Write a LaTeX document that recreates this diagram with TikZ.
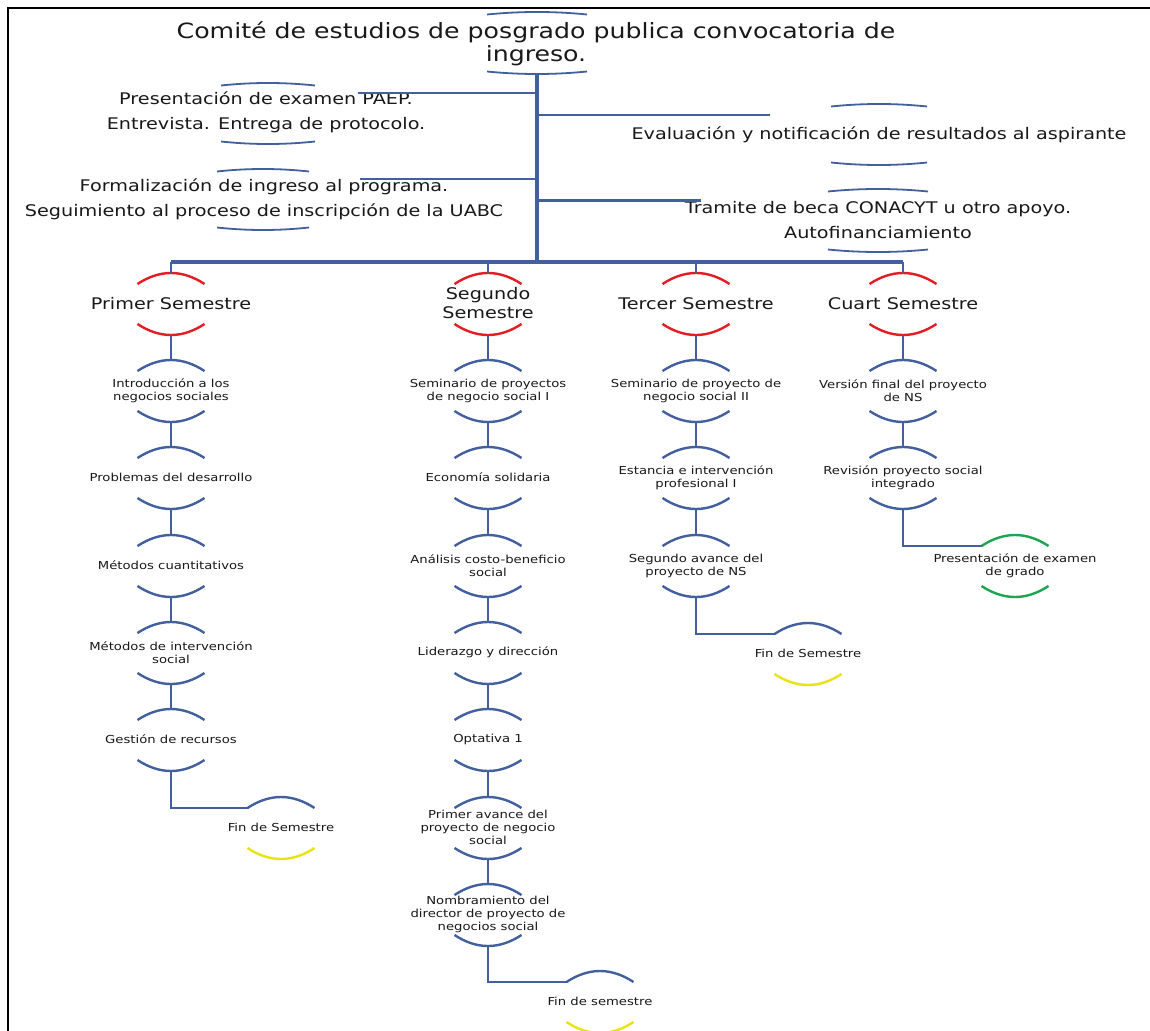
\documentclass[tikz,border=0pt]{standalone}
\usepackage{fontspec}
\setmainfont[FakeStretch=1.2]{DejaVu Sans}
\usetikzlibrary{calc}
\definecolor{lineblue}{RGB}{66,96,158}
\definecolor{arcred}{RGB}{228,28,36}
\definecolor{arcyellow}{RGB}{232,228,20}
\definecolor{arcgreen}{RGB}{30,165,80}
\definecolor{txt}{RGB}{25,25,25}
\tikzset{
  conn/.style={draw=lineblue, line width=2.8pt},
  trunkline/.style={draw=lineblue, line width=3.8pt},
  busline/.style={draw=lineblue, line width=3.2pt},
  branchline/.style={draw=lineblue, line width=2.4pt},
  bluearc/.style={draw=lineblue, line width=2.4pt},
  redarc/.style={draw=arcred, line width=2.4pt},
  yellowarc/.style={draw=arcyellow, line width=2.4pt},
  greenarc/.style={draw=arcgreen, line width=2.4pt},
  flatarc/.style={draw=lineblue, line width=1.8pt},
  smalltxt/.style={font=\fontsize{11}{13}\selectfont, align=center, text=txt, inner sep=0pt},
  semtxt/.style={font=\fontsize{16}{19}\selectfont, align=center, text=txt, inner sep=0pt},
  sidetxt/.style={font=\fontsize{16}{25}\selectfont, align=center, text=txt, inner sep=0pt},
  titletxt/.style={font=\fontsize{21}{22.5}\selectfont, align=center, text=txt, inner sep=0pt},
}
% #1 name, #2 cx, #3 top apex y, #4 bottom apex y, #5 half width, #6 sag, #7 top style, #8 bottom style
\newcommand\arcpair[8]{%
  \coordinate (#1-t) at (#2,#3);
  \coordinate (#1-b) at (#2,#4);
  \coordinate (#1-l) at ($(#1-t)+(-#5,#6)$);
  \draw[#7] ($(#1-t)+(-#5,#6)$) .. controls ($(#1-t)+(-#5/3,-#6/3)$) and ($(#1-t)+(#5/3,-#6/3)$) .. ($(#1-t)+(#5,#6)$);
  \draw[#8] ($(#1-b)+(-#5,-#6)$) .. controls ($(#1-b)+(-#5/3,#6/3)$) and ($(#1-b)+(#5/3,#6/3)$) .. ($(#1-b)+(#5,-#6)$);
}
% #1 name, #2 cx, #3 top apex y, #4 top arc style, #5 bottom arc style, #6 text style, #7 text
\newcommand\capnode[7]{%
  \pgfmathsetmacro\cnB{#3+62}%
  \pgfmathsetmacro\cnC{#3+30.5}%
  \arcpair{#1}{#2}{#3}{\cnB}{33.5}{11}{#4}{#5}
  \node[#6] (#1) at (#2,\cnC) {#7};
}
\begin{document}
\begin{tikzpicture}[x=1pt,y=-1pt]
\clip (0,0) rectangle (1150,1030);
\fill[white] (0,0) rectangle (1150,1030);
% frame
\draw[black, line width=2pt] (8,1040) -- (8,8) -- (1160,8);

% title
\arcpair{ttl}{537}{12}{74}{50}{2.5}{flatarc}{flatarc}
\node[titletxt] (title) at (536,44) {Comité de estudios de posgrado publica convocatoria de\\ingreso.};

% side nodes
\arcpair{L1}{268}{83}{144}{47}{2.5}{flatarc}{flatarc}
\node[sidetxt] (left1) at (266,112.5) {Presentación de examen PAEP.\\Entrevista. Entrega de protocolo.};
\arcpair{L2}{263}{169}{230}{46}{2.5}{flatarc}{flatarc}
\node[sidetxt] (left2) at (264,199) {Formalización de ingreso al programa.\\Seguimiento al proceso de inscripción de la UABC};
\arcpair{R1}{879}{104}{165}{48}{2.5}{flatarc}{flatarc}
\node[sidetxt] (right1) at (879,135) {Evaluación y notificación de resultados al aspirante};
\arcpair{R2}{878}{189}{252}{50}{2.5}{flatarc}{flatarc}
\node[sidetxt] (right2) at (878,220) {Tramite de beca CONACYT u otro apoyo.\\Autofinanciamiento};

% trunk, branches and bus
\coordinate (busc) at (537,262);
\coordinate (busl) at (171,262);
\coordinate (busr) at (903,262);
\coordinate (L1e) at (358,93);
\coordinate (L2e) at (360,179);
\coordinate (R1e) at (770,115);
\coordinate (R2e) at (701,200.5);
\draw[branchline] (L1e) -- (L1e -| busc);
\draw[branchline] (L2e) -- (L2e -| busc);
\draw[branchline] (R1e) -- (R1e -| busc);
\draw[branchline] (R2e) -- (R2e -| busc);
\draw[trunkline] (ttl-b) -- (busc);
\draw[busline] (busl) -- (busr);

% semester nodes
\capnode{s1}{171}{273}{redarc}{redarc}{semtxt}{Primer Semestre}
\capnode{s2}{488}{273}{redarc}{redarc}{semtxt}{Segundo\\Semestre}
\capnode{s3}{696}{273}{redarc}{redarc}{semtxt}{Tercer Semestre}
\capnode{s4}{903}{273}{redarc}{redarc}{semtxt}{Cuart Semestre}
\foreach \s in {s1,s2,s3,s4} {\draw[conn] (\s-t |- busc) -- (\s-t);}

% column 1
\capnode{a1}{171}{360}{bluearc}{bluearc}{smalltxt}{Introducción a los\\negocios sociales}
\capnode{a2}{171}{447}{bluearc}{bluearc}{smalltxt}{Problemas del desarrollo}
\capnode{a3}{171}{535}{bluearc}{bluearc}{smalltxt}{Métodos cuantitativos}
\capnode{a4}{171}{622}{bluearc}{bluearc}{smalltxt}{Métodos de intervención\\social}
\capnode{a5}{171}{709}{bluearc}{bluearc}{smalltxt}{Gestión de recursos}
\capnode{af}{281}{797}{bluearc}{yellowarc}{smalltxt}{Fin de Semestre}
\draw[conn] (s1-b) -- (a1-t);
\draw[conn] (a1-b) -- (a2-t);
\draw[conn] (a2-b) -- (a3-t);
\draw[conn] (a3-b) -- (a4-t);
\draw[conn] (a4-b) -- (a5-t);
\draw[conn] (a5-b) |- (af-l);

% column 2
\capnode{b1}{488}{360}{bluearc}{bluearc}{smalltxt}{Seminario de proyectos\\de negocio social I}
\capnode{b2}{488}{447}{bluearc}{bluearc}{smalltxt}{Economía solidaria}
\capnode{b3}{488}{535}{bluearc}{bluearc}{smalltxt}{Análisis costo-beneficio\\social}
\capnode{b4}{488}{622}{bluearc}{bluearc}{smalltxt}{Liderazgo y dirección}
\capnode{b5}{488}{709}{bluearc}{bluearc}{smalltxt}{Optativa 1}
\capnode{b6}{488}{797}{bluearc}{bluearc}{smalltxt}{Primer avance del\\proyecto de negocio\\social}
\capnode{b7}{488}{884}{bluearc}{bluearc}{smalltxt}{Nombramiento del\\director de proyecto de\\negocios social}
\capnode{bf}{600}{971}{bluearc}{yellowarc}{smalltxt}{Fin de semestre}
\draw[conn] (s2-b) -- (b1-t);
\draw[conn] (b1-b) -- (b2-t);
\draw[conn] (b2-b) -- (b3-t);
\draw[conn] (b3-b) -- (b4-t);
\draw[conn] (b4-b) -- (b5-t);
\draw[conn] (b5-b) -- (b6-t);
\draw[conn] (b6-b) -- (b7-t);
\draw[conn] (b7-b) |- (bf-l);

% column 3
\capnode{c1}{696}{360}{bluearc}{bluearc}{smalltxt}{Seminario de proyecto de\\negocio social II}
\capnode{c2}{696}{447}{bluearc}{bluearc}{smalltxt}{Estancia e intervención\\profesional I}
\capnode{c3}{696}{535}{bluearc}{bluearc}{smalltxt}{Segundo avance del\\proyecto de NS}
\capnode{cf}{808}{623}{bluearc}{yellowarc}{smalltxt}{Fin de Semestre}
\draw[conn] (s3-b) -- (c1-t);
\draw[conn] (c1-b) -- (c2-t);
\draw[conn] (c2-b) -- (c3-t);
\draw[conn] (c3-b) |- (cf-l);

% column 4
\capnode{d1}{903}{360}{bluearc}{bluearc}{smalltxt}{Versión final del proyecto\\de NS}
\capnode{d2}{903}{447}{bluearc}{bluearc}{smalltxt}{Revisión proyecto social\\integrado}
\capnode{dg}{1015}{535}{greenarc}{greenarc}{smalltxt}{Presentación de examen\\de grado}
\draw[conn] (s4-b) -- (d1-t);
\draw[conn] (d1-b) -- (d2-t);
\draw[conn] (d2-b) |- (dg-l);
\end{tikzpicture}
\end{document}
